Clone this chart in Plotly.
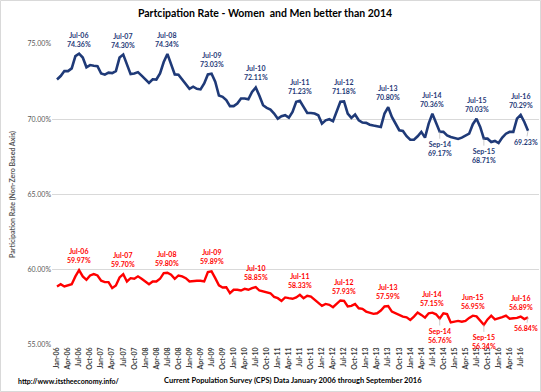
import plotly.graph_objects as go
import pandas as pd

months = pd.date_range("2006-01-01", periods=129, freq="MS").strftime("%b-%y").tolist()

men = [72.64, 72.87, 73.20, 73.20, 73.38, 74.20, 74.36, 74.10, 73.45, 73.60, 73.56, 73.53,
       73.04, 72.96, 73.10, 73.07, 73.20, 74.10, 74.30, 73.66, 73.00, 73.04, 73.13, 72.90,
       72.64, 72.42, 72.66, 72.64, 73.04, 73.80, 74.34, 73.60, 72.98, 72.96, 72.64, 72.38,
       72.02, 72.16, 72.02, 71.98, 72.38, 72.98, 73.03, 72.49, 71.58, 71.49, 71.27, 70.87,
       70.87, 71.04, 71.38, 71.38, 71.33, 71.82, 72.11, 71.56, 70.93, 70.76, 70.64, 70.38,
       70.04, 70.20, 70.27, 70.11, 70.49, 71.16, 71.23, 70.82, 70.42, 70.42, 70.38, 70.27,
       69.71, 69.93, 70.00, 69.87, 70.49, 71.16, 71.18, 70.38, 70.09, 70.31, 69.93, 69.78,
       69.76, 69.64, 69.58, 69.53, 69.49, 70.38, 70.80, 70.16, 69.71, 69.27, 69.22, 68.87,
       68.64, 68.64, 68.87, 69.16, 68.78, 69.71, 70.36, 69.71, 69.17, 69.16, 68.93, 68.82,
       68.76, 68.69, 68.78, 68.93, 69.04, 69.67, 70.03, 69.49, 68.71, 68.71, 68.49, 68.56,
       68.42, 68.78, 69.04, 69.16, 69.16, 70.04, 70.29, 69.82, 69.23]

women = [58.89, 59.04, 58.89, 58.96, 59.04, 59.56, 59.97, 59.56, 59.33, 59.62, 59.71, 59.62,
         59.27, 59.18, 59.18, 58.78, 58.96, 59.49, 59.70, 59.22, 59.44, 59.40, 59.56, 59.40,
         59.22, 59.04, 59.22, 59.22, 59.40, 59.78, 59.80, 59.67, 59.40, 59.62, 59.56, 59.44,
         59.22, 59.27, 59.27, 59.27, 59.22, 59.84, 59.89, 59.44, 58.96, 58.82, 58.84, 58.44,
         58.67, 58.67, 58.62, 58.73, 58.67, 58.78, 58.85, 58.62, 58.56, 58.51, 58.44, 58.20,
         58.11, 57.93, 58.16, 58.11, 58.07, 58.16, 58.33, 58.11, 58.27, 58.22, 58.00, 57.78,
         57.60, 57.73, 57.67, 57.51, 57.73, 57.96, 57.93, 57.56, 57.60, 57.73, 57.44, 57.40,
         57.22, 57.16, 57.07, 57.11, 57.29, 57.56, 57.59, 57.22, 57.11, 57.00, 56.89, 56.84,
         56.67, 56.89, 57.16, 57.00, 56.82, 57.11, 57.15, 57.04, 56.76, 57.10, 57.05, 56.50,
         56.55, 56.60, 56.55, 56.60, 56.80, 56.95, 56.90, 56.65, 56.34, 56.70, 56.95, 56.70,
         56.75, 56.85, 56.95, 56.75, 56.78, 56.80, 56.89, 56.72, 56.84]

men_top = [6, 18, 30, 42, 54, 66, 78, 90, 102, 114, 126]
men_bottom = [104, 116]
women_top = [6, 18, 30, 42, 54, 66, 78, 90, 102, 113, 126]
women_bottom = [104, 116]
last_idx = 128

tick_idx = list(range(0, 129, 3))
tick_text = [months[i] for i in tick_idx]

BLUE = "#1f3a78"
RED = "#ff0000"
FONT = "Lato"

x = list(range(len(months)))
fig = go.Figure()
fig.add_trace(go.Scatter(x=x, y=men, mode="lines", line=dict(color=BLUE, width=2.6),
                         hoverinfo="skip", showlegend=False))
fig.add_trace(go.Scatter(x=x, y=women, mode="lines", line=dict(color=RED, width=2.4),
                         hoverinfo="skip", showlegend=False))

ann = []
def top_label(i, vals, color):
    ann.append(dict(x=i, y=vals[i], xref="x", yref="y", text=f"{months[i]}<br>{vals[i]:.2f}%",
                    showarrow=False, yanchor="bottom", yshift=4,
                    font=dict(family=FONT, size=7, color=color, weight="bold")))
def bottom_label(i, vals, color):
    ann.append(dict(x=i, y=vals[i], xref="x", yref="y", text=f"{months[i]}<br>{vals[i]:.2f}%",
                    showarrow=True, arrowhead=0, arrowwidth=0.8, arrowcolor="#bfbfbf",
                    ax=0, ay=17, font=dict(family=FONT, size=7, color=color, weight="bold")))
def last_label(vals, color):
    ann.append(dict(x=last_idx, y=vals[last_idx], xref="x", yref="y", text=f"{vals[last_idx]:.2f}%",
                    showarrow=True, arrowhead=0, arrowwidth=0.8, arrowcolor="#bfbfbf",
                    ax=-2, ay=11, font=dict(family=FONT, size=7, color=color, weight="bold")))

for i in men_top:
    top_label(i, men, BLUE)
for i in men_bottom:
    bottom_label(i, men, BLUE)
last_label(men, BLUE)
for i in women_top:
    top_label(i, women, RED)
for i in women_bottom:
    bottom_label(i, women, RED)
last_label(women, RED)

L, R, T, B = 52, 2, 44, 47
W, H = 541, 392
pw, ph = W - L - R, H - T - B
def px(xp):
    return (xp - L) / pw
def py(yp):
    return (H - B - yp) / ph

ann.append(dict(x=px(12), y=py(195), xref="paper", yref="paper", text="Participation Rate (Non-Zero Based Axis)",
                textangle=-90, showarrow=False, xanchor="center", yanchor="middle",
                font=dict(family=FONT, size=7, color="#595959", weight="bold")))
ann.append(dict(x=px(16), y=py(381), xref="paper", yref="paper", text="http://www.itstheeconomy.info/",
                showarrow=False, xanchor="left", yanchor="middle",
                font=dict(family=FONT, size=7, color="#000000", weight="bold")))
ann.append(dict(x=px(293), y=py(381), xref="paper", yref="paper",
                text="Current Population Survey (CPS) Data January 2006 through September 2016",
                showarrow=False, xanchor="center", yanchor="middle",
                font=dict(family=FONT, size=7.5, color="#000000", weight="bold")))

fig.update_layout(
    width=W, height=H,
    margin=dict(l=L, r=R, t=T, b=B),
    paper_bgcolor="white", plot_bgcolor="white",
    title=dict(text="Partcipation Rate - Women  and Men better than 2014", x=265 / W, xanchor="center",
               y=1 - 13 / H, yanchor="middle", yref="container",
               font=dict(family=FONT, size=10.5, color="#000000", weight="bold")),
    annotations=ann,
    shapes=[dict(type="rect", xref="paper", yref="paper", x0=px(0.5), x1=px(540.5), y0=py(391.5), y1=py(0.5),
                 line=dict(color="#d9d9d9", width=1), fillcolor="rgba(0,0,0,0)", layer="below")],
)
fig.update_xaxes(range=[-1.36, 130.98], tickmode="array", tickvals=tick_idx, ticktext=tick_text,
                 tickangle=-90, showgrid=False, zeroline=False, showline=False, ticks="",
                 tickfont=dict(family=FONT, size=7, color="#404040", weight="bold"))
fig.update_yaxes(range=[55, 75], dtick=5, tick0=55, ticksuffix="%", tickformat=".2f",
                 showgrid=True, gridcolor="#d9d9d9", gridwidth=1, zeroline=False, showline=False,
                 ticks="", tickfont=dict(family=FONT, size=7, color="#595959"))
fig.write_html("out.html", config={"displayModeBar": False},
               post_script="document.body.style.margin='0';document.body.style.overflow='hidden';")
